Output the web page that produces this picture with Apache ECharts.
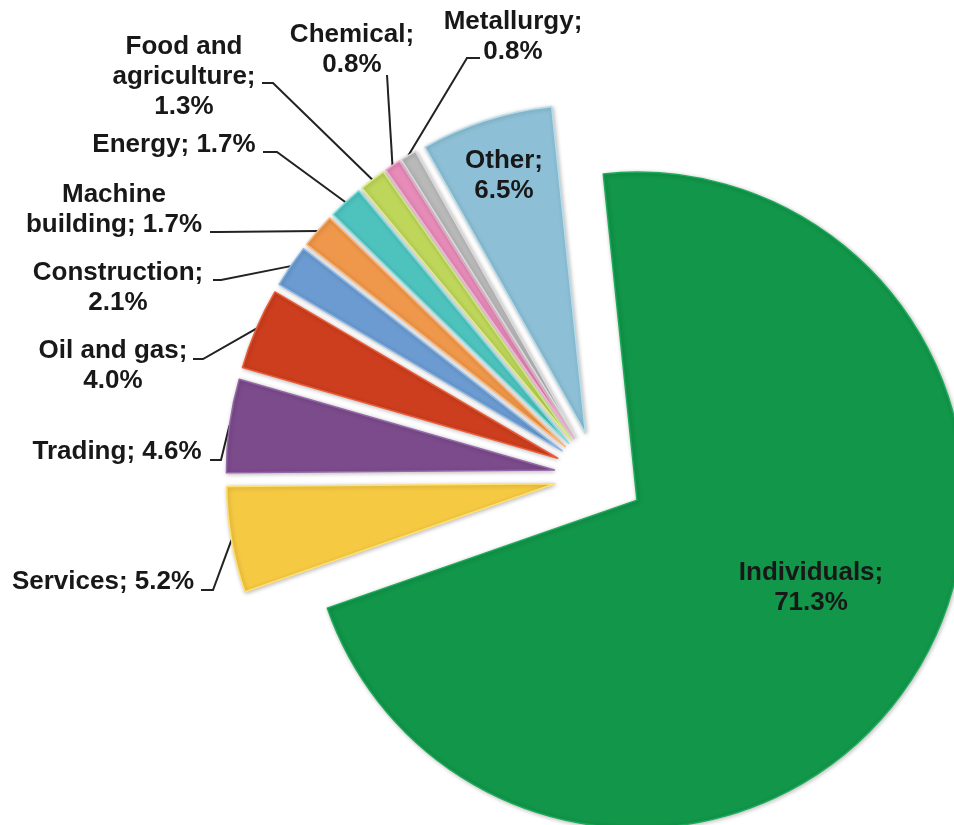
<!DOCTYPE html>
<html>
<head>
<meta charset="utf-8">
<title>Structure by sector</title>
<script src="https://cdn.jsdelivr.net/npm/echarts@6/dist/echarts.min.js"></script>
<style>
  html, body { margin: 0; padding: 0; background: #ffffff; }
  #chart { width: 954px; height: 825px; }
</style>
</head>
<body>
<div id="chart"></div>
<script>
// Sector shares, percent, clockwise from the top
const categories = ['Individuals', 'Services', 'Trading', 'Oil and gas', 'Construction',
  'Machine building', 'Energy', 'Food and agriculture', 'Chemical', 'Metallurgy', 'Other'];
const shares = [71.3, 5.2, 4.6, 4.0, 2.1, 1.7, 1.7, 1.3, 0.8, 0.8, 6.5];

// How each label wraps: name lines, and whether the value goes on its own line
const labelNames = ['Individuals', 'Services', 'Trading', 'Oil and gas', 'Construction',
  'Machine\nbuilding', 'Energy', 'Food and\nagriculture', 'Chemical', 'Metallurgy', 'Other'];
const valueOnNewLine = [true, false, false, true, true, false, false, true, true, true, true];
const insideLabel = [true, false, false, false, false, false, false, false, false, false, true];

const sliceColors = ['#11964a', '#f6c942', '#7c4b8c', '#cd3e1e', '#6b9bd1', '#ef974a',
  '#4ec3be', '#bed65a', '#e78cb9', '#b9b9b9', '#8dc0d6'];
const sliceEdges = ['#1bab58', '#ffe070', '#9566a8', '#ec5a35', '#8cb8e8', '#ffb470',
  '#7ae0dc', '#dcef86', '#f7b0d4', '#dadada', '#b3dced'];

// Label block centres and leader-line bend/end points (px)
const labelPlacement = [
  { x: 811, y: 588 },
  { x: 103, y: 582, bend: [213, 590], end: [201, 590] },
  { x: 117, y: 452, bend: [221, 460], end: [210, 460] },
  { x: 113, y: 366, bend: [203, 359], end: [193, 359] },
  { x: 118, y: 288, bend: [221, 280], end: [213, 280] },
  { x: 114, y: 210, bend: [218, 232], end: [210, 232] },
  { x: 174, y: 145, bend: [277, 152], end: [263, 152] },
  { x: 184, y: 77, bend: [273, 83], end: [262, 83] },
  { x: 352, y: 50, end: [387, 75] },
  { x: 513, y: 37, bend: [467, 58], end: [480, 58] },
  { x: 504, y: 176 }
];

const PIE_CENTER = [599, 476];
const PIE_RADIUS = 328;
const EXPLODE = 45;
const START_ANGLE = 95.9;

const chart = echarts.init(document.getElementById('chart'), null, { renderer: 'canvas' });

function labelText(i) {
  return labelNames[i] + ';' + (valueOnNewLine[i] ? '\n' : ' ') + shares[i].toFixed(1) + '%';
}

// Exploded slices: every sector is pulled out of the centre
const sliceData = categories.map(function (name, i) {
  return {
    name: name,
    value: shares[i],
    selected: true,
    itemStyle: {
      color: sliceColors[i],
      borderColor: sliceEdges[i],
      borderWidth: 1.5
    }
  };
});

// Label layer: same sectors, invisible, reaching to the outer edge of the pulled-out slices
const labelData = categories.map(function (name, i) {
  const item = { name: name, value: shares[i] };
  if (insideLabel[i]) item.labelLine = { show: false };
  return item;
});

chart.setOption({
  animation: false,
  backgroundColor: '#ffffff',
  series: [{
    type: 'pie',
    name: 'slices',
    center: PIE_CENTER,
    radius: PIE_RADIUS,
    startAngle: START_ANGLE,
    clockwise: true,
    selectedMode: 'multiple',
    selectedOffset: EXPLODE,
    emphasis: { disabled: true },
    silent: true,
    label: { show: false },
    labelLine: { show: false },
    itemStyle: {
      shadowBlur: 4,
      shadowColor: 'rgba(0,0,0,0.25)',
      shadowOffsetX: 1,
      shadowOffsetY: 1
    },
    data: sliceData
  }, {
    type: 'pie',
    name: 'labels',
    center: PIE_CENTER,
    radius: PIE_RADIUS + EXPLODE,
    startAngle: START_ANGLE,
    clockwise: true,
    selectedMode: false,
    silent: true,
    avoidLabelOverlap: false,
    emphasis: { disabled: true },
    itemStyle: { color: 'rgba(0,0,0,0)', borderWidth: 0 },
    label: {
      show: true,
      position: 'outside',
      color: '#181818',
      fontFamily: 'Liberation Sans, Arial, sans-serif',
      fontWeight: 'bold',
      fontSize: 26,
      lineHeight: 30,
      align: 'center',
      formatter: function (p) { return labelText(p.dataIndex); }
    },
    labelLine: {
      show: true,
      length: 20,
      length2: 10,
      lineStyle: { color: '#222222', width: 2 }
    },
    labelLayout: function (p) {
      const lp = labelPlacement[p.dataIndex];
      const out = { x: lp.x, y: lp.y, align: 'center', verticalAlign: 'middle' };
      if (lp.end && p.labelLinePoints) {
        const start = p.labelLinePoints[0];
        out.labelLinePoints = lp.bend ? [start, lp.bend, lp.end] : [start, lp.end];
      }
      return out;
    },
    data: labelData
  }]
});
</script>
</body>
</html>
